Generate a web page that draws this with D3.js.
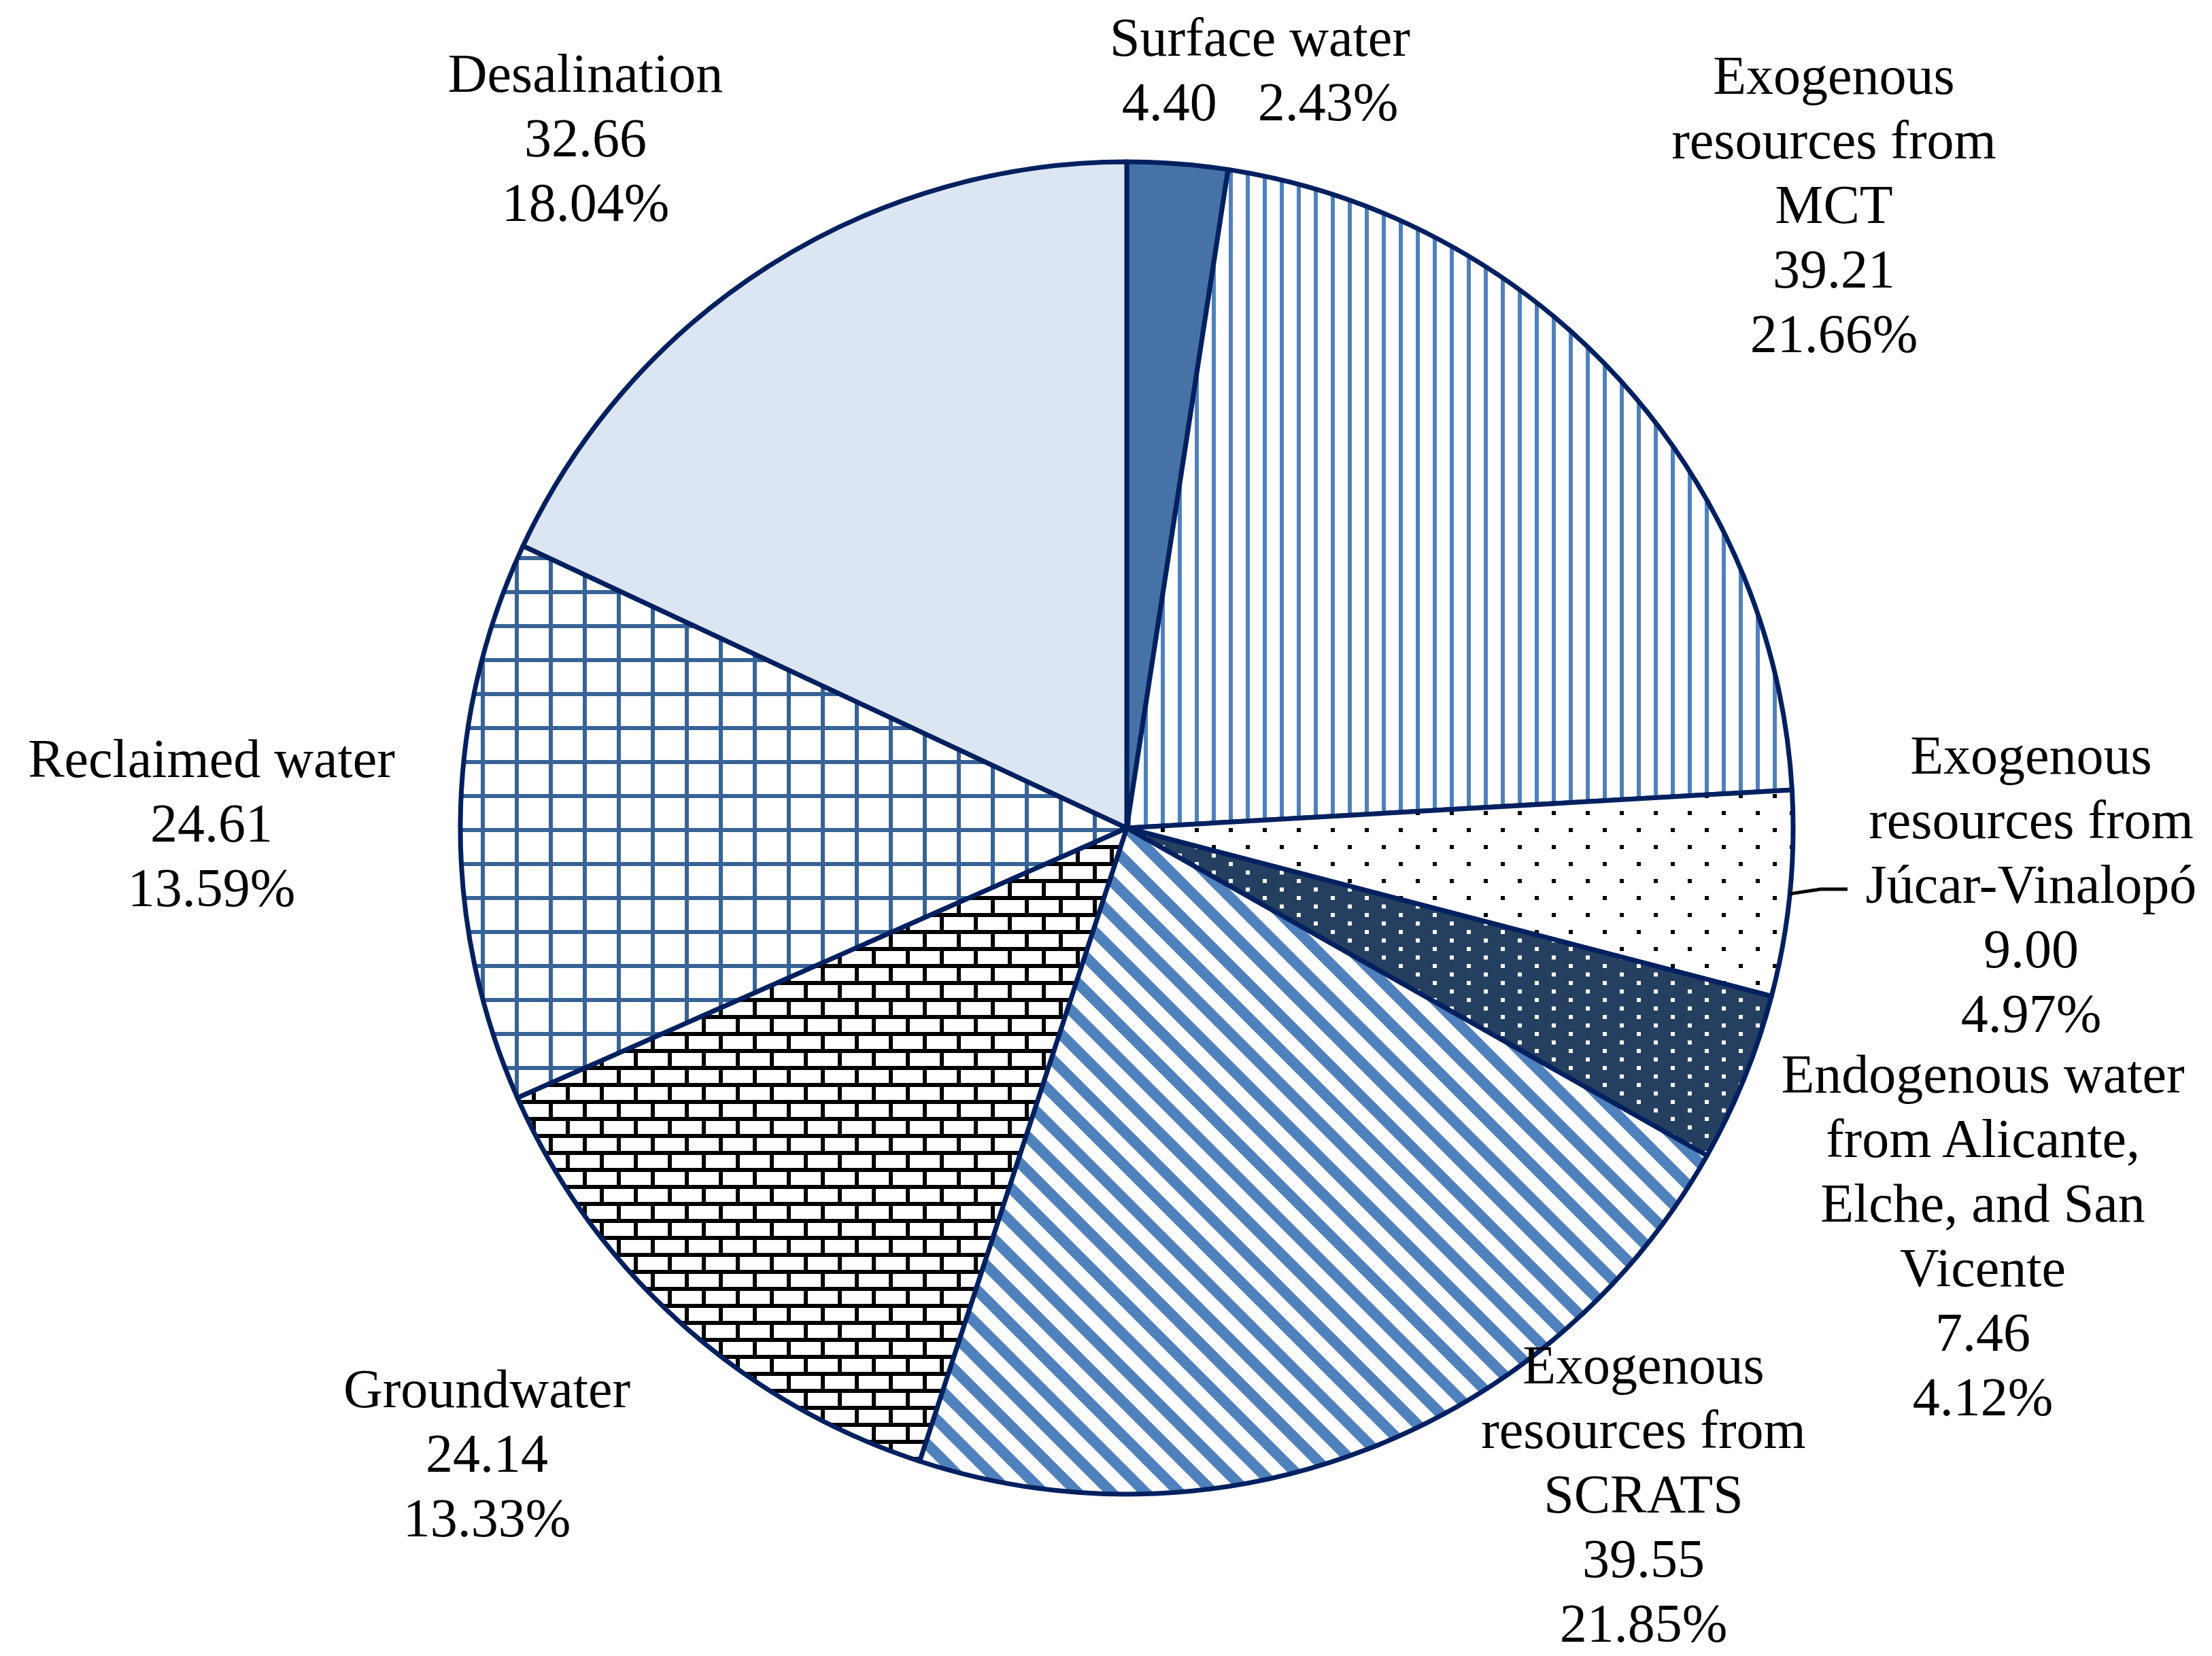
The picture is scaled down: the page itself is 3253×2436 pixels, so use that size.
<!DOCTYPE html>
<html lang="en">
<head>
    <meta charset="UTF-8">
    <script src="https://cdn.jsdelivr.net/npm/d3@7"></script>
    <title>Water resources pie</title>
    <style>
        html,
        body {
            margin: 0px;
            padding: 0px;
            background-color: #ffffff;
        }
        text {
            font-family: "Liberation Serif", "Times New Roman", serif;
            font-size: 80px;
            fill: #000;
            white-space: pre;
        }
    </style>
</head>
<body>
    <div id="chart"></div>
    <script>

        // slices, clockwise from 12 o'clock
        const categories = [
            "Surface water",
            "Exogenous resources from MCT",
            "Exogenous resources from Júcar-Vinalopó",
            "Endogenous water from Alicante, Elche, and San Vicente",
            "Exogenous resources from SCRATS",
            "Groundwater",
            "Reclaimed water",
            "Desalination"
        ];
        const values = [4.40, 39.21, 9.00, 7.46, 39.55, 24.14, 24.61, 32.66];

        // how each name wraps in its label
        const nameLines = [
            ["Surface water"],
            ["Exogenous", "resources from", "MCT"],
            ["Exogenous", "resources from", "Júcar-Vinalopó"],
            ["Endogenous water", "from Alicante,", "Elche, and San", "Vicente"],
            ["Exogenous", "resources from", "SCRATS"],
            ["Groundwater"],
            ["Reclaimed water"],
            ["Desalination"]
        ];

        const width = 3253;
        const height = 2436;
        const cx = 1657, cy = 1218, radius = 980;
        const lineH = 95;

        // label anchor: centre x, first baseline y
        const labelPos = [
            [1853, 82],
            [2697, 138],
            [2987, 1138],
            [2916, 1607],
            [2417, 2035],
            [716, 2070],
            [311, 1143],
            [861, 135]
        ];

        const total = d3.sum(values);
        const fmt = d3.format(".2f");

        const svg = d3.select('#chart').append('svg')
            .attr('width', width)
            .attr('height', height);

        const defs = svg.append('defs');

        // light vertical lines
        let p = defs.append('pattern').attr('id', 'vert')
            .attr('patternUnits', 'userSpaceOnUse').attr('width', 25).attr('height', 25);
        p.append('rect').attr('width', 25).attr('height', 25).attr('fill', '#fff');
        p.append('rect').attr('x', 0).attr('width', 6).attr('height', 25).attr('fill', '#4f81bd');

        // 5% dots
        p = defs.append('pattern').attr('id', 'dots')
            .attr('patternUnits', 'userSpaceOnUse').attr('width', 50).attr('height', 50);
        p.append('rect').attr('width', 50).attr('height', 50).attr('fill', '#fff');
        p.append('rect').attr('x', 0).attr('y', 0).attr('width', 6).attr('height', 6).attr('fill', '#000');
        p.append('rect').attr('x', 25).attr('y', 25).attr('width', 6).attr('height', 6).attr('fill', '#000');

        // white dots on navy
        p = defs.append('pattern').attr('id', 'navydots')
            .attr('patternUnits', 'userSpaceOnUse').attr('width', 50).attr('height', 25);
        p.append('rect').attr('width', 50).attr('height', 25).attr('fill', '#243f60');
        p.append('rect').attr('x', 0).attr('y', 0).attr('width', 6).attr('height', 6).attr('fill', '#fff');
        p.append('rect').attr('x', 25).attr('y', 12.5).attr('width', 6).attr('height', 6).attr('fill', '#fff');

        // wide downward diagonal
        p = defs.append('pattern').attr('id', 'diag')
            .attr('patternUnits', 'userSpaceOnUse').attr('width', 50).attr('height', 50);
        p.append('rect').attr('width', 50).attr('height', 50).attr('fill', '#fff');
        p.append('path')
            .attr('d', 'M-10,-10L60,60M-10,40L10,60M40,-10L60,10')
            .attr('stroke', '#4f81bd').attr('stroke-width', 16);

        // horizontal brick
        p = defs.append('pattern').attr('id', 'brick')
            .attr('patternUnits', 'userSpaceOnUse').attr('width', 50).attr('height', 50);
        p.append('rect').attr('width', 50).attr('height', 50).attr('fill', '#fff');
        p.append('rect').attr('x', 0).attr('y', 0).attr('width', 50).attr('height', 6).attr('fill', '#000');
        p.append('rect').attr('x', 0).attr('y', 25).attr('width', 50).attr('height', 6).attr('fill', '#000');
        p.append('rect').attr('x', 0).attr('y', 0).attr('width', 6).attr('height', 25).attr('fill', '#000');
        p.append('rect').attr('x', 25).attr('y', 25).attr('width', 6).attr('height', 25).attr('fill', '#000');

        // large grid
        p = defs.append('pattern').attr('id', 'grid')
            .attr('patternUnits', 'userSpaceOnUse').attr('width', 50).attr('height', 50);
        p.append('rect').attr('width', 50).attr('height', 50).attr('fill', '#fff');
        p.append('rect').attr('x', 0).attr('y', 0).attr('width', 50).attr('height', 6).attr('fill', '#386396');
        p.append('rect').attr('x', 0).attr('y', 0).attr('width', 6).attr('height', 50).attr('fill', '#386396');

        const fills = [
            '#4672a6',
            'url(#vert)',
            'url(#dots)',
            'url(#navydots)',
            'url(#diag)',
            'url(#brick)',
            'url(#grid)',
            '#dce6f2'
        ];

        const pie = d3.pie().sort(null).value(d => d);
        const arc = d3.arc().innerRadius(0).outerRadius(radius);
        const arcs = pie(values);

        const g = svg.append('g').attr('transform', `translate(${cx},${cy})`);

        g.selectAll('path')
            .data(arcs)
            .join('path')
            .attr('d', arc)
            .attr('fill', (d, i) => fills[i])
            .attr('stroke', '#002060')
            .attr('stroke-width', 7)
            .attr('stroke-linejoin', 'round');

        // leader line for Júcar-Vinalopó
        const jv = arcs[2];
        const mid = (jv.startAngle + jv.endAngle) / 2;
        const p0 = [cx + radius * Math.sin(mid), cy - radius * Math.cos(mid)];
        const lb = labelPos[2];
        svg.append('path')
            .attr('d', d3.line()([p0, [p0[0] + 45, lb[1] + 2 * lineH - 20], [lb[0] - 270, lb[1] + 2 * lineH - 20]]))
            .attr('fill', 'none')
            .attr('stroke', '#000')
            .attr('stroke-width', 5);

        // labels
        categories.forEach((c, i) => {
            const pct = fmt(values[i] / total * 100) + '%';
            let lines;
            if (i === 0) {
                lines = [nameLines[i][0], fmt(values[i]) + '   ' + pct];
            } else {
                lines = nameLines[i].concat([fmt(values[i]), pct]);
            }
            const t = svg.append('text')
                .attr('text-anchor', 'middle')
                .attr('x', labelPos[i][0])
                .attr('y', labelPos[i][1]);
            t.selectAll('tspan')
                .data(lines)
                .join('tspan')
                .attr('x', labelPos[i][0])
                .attr('dy', (d, k) => k === 0 ? 0 : lineH)
                .text(d => d);
        });

    </script>
</body>
</html>
